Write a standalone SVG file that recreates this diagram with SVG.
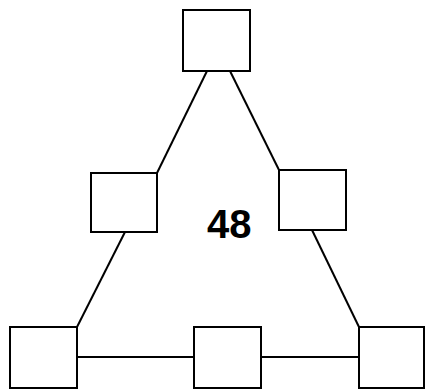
<svg xmlns="http://www.w3.org/2000/svg" width="425" height="389" viewBox="0 0 425 389">
<style>
.n{fill:#fff;stroke:#000;stroke-width:2}
.e{stroke:#000;stroke-width:2;fill:none}
.t{font-family:"Liberation Sans",Arial,sans-serif;font-weight:bold;font-size:40px;fill:#000}
</style>
<rect width="425" height="389" fill="#fff"/>
<g id="edges">
<line class="e" x1="207" y1="71" x2="157" y2="173"/>
<line class="e" x1="125" y1="232" x2="77" y2="327"/>
<line class="e" x1="230" y1="71" x2="279" y2="170"/>
<line class="e" x1="312" y1="230" x2="359" y2="327"/>
<line class="e" x1="77" y1="357" x2="194" y2="357"/>
<line class="e" x1="261" y1="357" x2="359" y2="357"/>
</g>
<g id="n1"><rect class="n" x="183" y="10" width="67" height="61"/></g>
<g id="n2"><rect class="n" x="91" y="173" width="66" height="59"/></g>
<g id="n3"><rect class="n" x="279" y="170" width="67" height="60"/></g>
<g id="n4"><rect class="n" x="10" y="327" width="67" height="61"/></g>
<g id="n5"><rect class="n" x="194" y="327" width="67" height="61"/></g>
<g id="n6"><rect class="n" x="359" y="327" width="65" height="61"/></g>
<g id="label"><text class="t" x="207" y="238">48</text></g>
</svg>
